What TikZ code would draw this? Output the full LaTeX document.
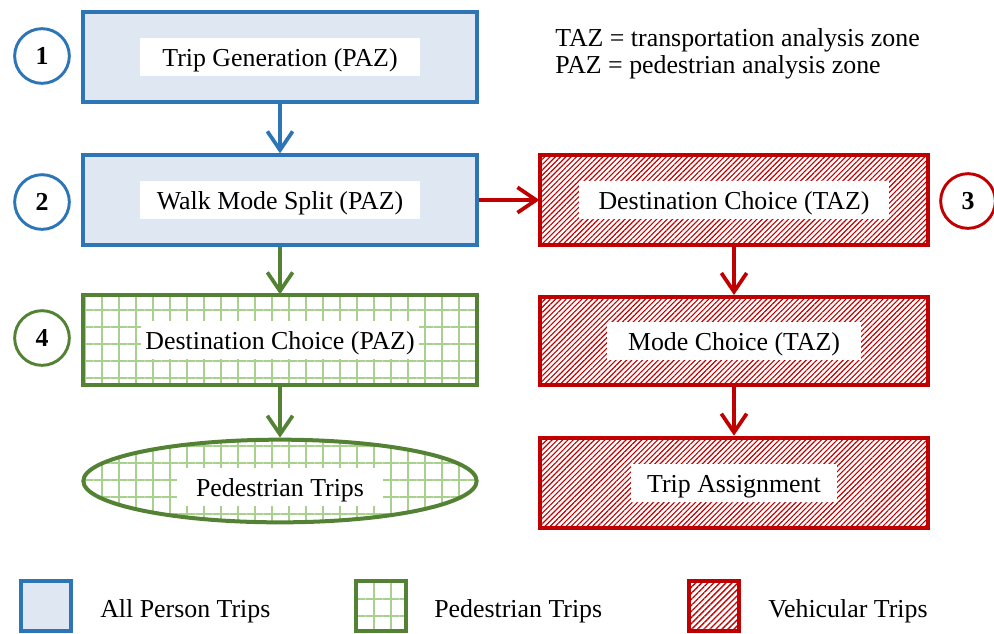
\documentclass[tikz,border=0pt]{standalone}
\usepackage{fontspec}
\setmainfont{Liberation Serif}
\usepackage{xcolor}
\usepackage{tikz}
\usetikzlibrary{arrows.meta,patterns.meta,shapes.geometric}
\definecolor{allblue}{RGB}{46,117,182}
\definecolor{allfill}{RGB}{222,231,242}
\definecolor{pedgreen}{RGB}{84,130,53}
\definecolor{pedgrid}{RGB}{169,209,142}
\definecolor{vehred}{RGB}{192,0,0}
\tikzset{
  every node/.style={font=\fontsize{19.4}{21.8}\selectfont},
  stage/.style={draw, line width=3pt, minimum width=295pt, minimum height=67pt, inner sep=0pt},
  allbox/.style={stage, draw=allblue, fill=allfill},
  pedbox/.style={stage, draw=pedgreen, pattern={Hatch[distance=12.75pt,line width=1.5pt]}, pattern color=pedgrid},
  vehbox/.style={stage, draw=vehred, pattern={Lines[angle=45,distance=2.8pt,line width=0.85pt]}, pattern color=vehred},
  tag/.style={fill=white, inner sep=0pt, minimum height=29pt, text height=15pt, text depth=1.5pt, minimum width=#1},
  tag/.default=210pt,
  stepno/.style={circle, draw=#1, line width=2.2pt, minimum size=41pt, inner sep=0pt,
    font=\fontsize{19.4}{21.8}\selectfont\bfseries},
  flow/.style={draw=#1, line width=2.8pt, -{Straight Barb[length=14pt,width=19pt]}},
  key/.style={line width=3pt, minimum width=37pt, minimum height=38pt, inner sep=0pt},
}

\begin{document}
\begin{tikzpicture}[x=0.75pt, y=-0.75pt]
  \useasboundingbox (0,0) rectangle (994,633);
  % person trip steps
  \node[allbox] (gen) at (280,57) {};
  \node[tag] (gen-t) at (gen) {Trip Generation (PAZ)};
  \node[allbox] (split) at (280,200) {};
  \node[tag] (split-t) at (split) {Walk Mode Split (PAZ)};
  % pedestrian side
  \node[pedbox] (pdest) at (280,340) {};
  \node[tag=208pt] (pdest-t) at (pdest) {Destination Choice (PAZ)};
  \node[pedbox, ellipse, minimum height=62pt] (peds) at (280,481) {};
  \node[tag=154pt] (peds-t) at (280,487) {Pedestrian Trips};
  % vehicular side
  \node[vehbox, minimum width=291pt] (vdest) at (734,200) {};
  \node[tag=233pt] (vdest-t) at (vdest) {Destination Choice (TAZ)};
  \node[vehbox, minimum width=291pt, minimum height=66pt] (vmode) at (734,341) {};
  \node[tag=191pt] (vmode-t) at (vmode) {Mode Choice (TAZ)};
  \node[vehbox, minimum width=291pt, minimum height=68pt] (assign) at (734,483) {};
  \node[tag=155pt] (assign-t) at (assign) {Trip Assignment};
  % step numbers
  \node[stepno=allblue] (n1) at (42,56) {1};
  \node[stepno=allblue] (n2) at (42,202) {2};
  \node[stepno=vehred] (n3) at (968,201) {3};
  \node[stepno=pedgreen] (n4) at (42,338) {4};
  % arrows
  \draw[flow=allblue] (gen) -- (split);
  \draw[flow=vehred] (split) -- (vdest);
  \draw[flow=pedgreen] (split) -- (pdest);
  \draw[flow=pedgreen] (pdest) -- (peds);
  \draw[flow=vehred] (vdest) -- (vmode);
  \draw[flow=vehred] (vmode) -- (assign);
  % abbreviations
  \node[anchor=base west, inner sep=0pt] (taz) at (555,46) {TAZ = transportation analysis zone};
  \node[anchor=base west, inner sep=0pt] (paz) at (555,73) {PAZ = pedestrian analysis zone};
  % legend
  \node[key, draw=allblue, fill=allfill] (k-all) at (46,606) {};
  \node[anchor=base west, inner sep=0pt] (k-all-t) at (100,617) {All Person Trips};
  \node[key, draw=pedgreen, pattern={Hatch[distance=12.75pt,line width=1.5pt]}, pattern color=pedgrid] (k-ped) at (381,606) {};
  \node[anchor=base west, inner sep=0pt] (k-ped-t) at (434,617) {Pedestrian Trips};
  \node[key, draw=vehred, pattern={Lines[angle=45,distance=3.2pt,line width=1pt]}, pattern color=vehred] (k-veh) at (714,606) {};
  \node[anchor=base west, inner sep=0pt] (k-veh-t) at (768,617) {Vehicular Trips};
\end{tikzpicture}
\end{document}
